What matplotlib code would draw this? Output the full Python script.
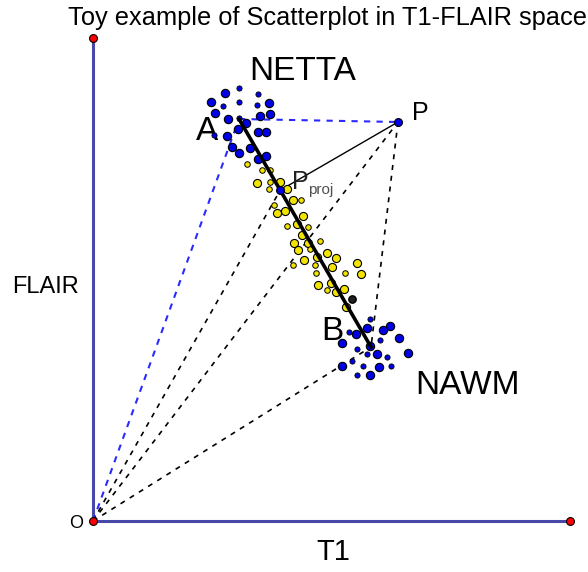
import numpy as np
import matplotlib
matplotlib.use("Agg")
import matplotlib.pyplot as plt

plt.rcParams['font.family'] = ['Liberation Sans', 'DejaVu Sans']

# axis extents (T1, FLAIR units)
t1_max = 477
flair_max = 483

# NETTA cluster (blue)
netta_t1 = [132, 118, 176, 122, 135, 167, 177, 153, 145, 165, 173, 134, 139, 146, 157, 165, 173]
netta_fl = [428, 419, 418, 408, 402, 405, 407, 398, 392, 389, 389, 385, 374, 368, 373, 362, 365]
netta_small_t1 = [146, 165, 130, 146, 164, 146, 121]
netta_small_fl = [433, 427, 415, 419, 416, 403, 386]

# NAWM cluster (blue)
nawm_t1 = [297, 290, 274, 263, 306, 277, 249, 284, 315, 249, 286, 277]
nawm_fl = [195, 191, 193, 187, 183, 175, 178, 167, 168, 155, 154, 146]
nawm_small_t1 = [277, 256, 287, 264, 274, 294, 270, 298, 264, 259]
nawm_small_fl = [202, 189, 181, 172, 167, 164, 155, 155, 146, 160]

# transition voxels (yellow)
yel_t1 = [164, 187, 194, 200, 184, 192, 210, 204, 209, 201, 215, 205, 234, 243,
          211, 224, 239, 264, 268, 225, 238, 243, 251, 253]
yel_fl = [338, 339, 332, 321, 308, 310, 305, 297, 286, 278, 278, 271, 268, 263,
          261, 264, 254, 258, 247, 236, 238, 229, 232, 214]
yel_small_t1 = [154, 169, 177, 177, 176, 208, 181, 194, 215, 227, 217, 222, 223, 252, 234, 200]
yel_small_fl = [357, 351, 351, 339, 332, 321, 316, 295, 294, 280, 272, 256, 248, 248, 231, 256]

dark_t1 = [259]
dark_fl = [222]

# key points
A = np.array([146, 402])
B = np.array([278, 174])
P = np.array([305, 399])
O = np.array([0, 0])

# projection of P onto line AB
ab = B - A
Pproj = A + ab * np.dot(P - A, ab) / np.dot(ab, ab)

fig = plt.figure(figsize=(5.88, 5.72), dpi=100)
ax = fig.add_axes([0, 0, 1, 1])
ax.set_xlim(-93, 495)
ax.set_ylim(-51, 521)
ax.axis('off')

axis_col = '#4848a8'
ax.plot([0, 0], [0, flair_max], color=axis_col, lw=2.2, zorder=2)
ax.plot([0, t1_max], [0, 0], color=axis_col, lw=2.2, zorder=2)

# dashed construction lines
blue_dash = dict(color='#2a2aff', lw=1.5, ls=(0, (3, 3)), zorder=3)
black_dash = dict(color='black', lw=1.2, ls=(0, (3, 3.5)), zorder=3)
ax.plot([O[0], A[0]], [O[1], A[1]], **blue_dash)
ax.plot([A[0], P[0]], [A[1], P[1]], **blue_dash)
ax.plot([O[0], Pproj[0]], [O[1], Pproj[1]], **black_dash)
ax.plot([O[0], P[0]], [O[1], P[1]], **black_dash)
ax.plot([O[0], B[0]], [O[1], B[1]], **black_dash)
ax.plot([P[0], B[0]], [P[1], B[1]], **black_dash)
ax.plot([P[0], Pproj[0]], [P[1], Pproj[1]], color='black', lw=1.0, zorder=3)

# points
ax.scatter(yel_t1, yel_fl, s=34, c='#f2e400', edgecolors='black', linewidths=0.8, zorder=4)
ax.scatter(yel_small_t1, yel_small_fl, s=16, c='#f2e400', edgecolors='black', linewidths=0.7, zorder=4)
ax.scatter(netta_t1, netta_fl, s=36, c='#0000e6', edgecolors='black', linewidths=0.8, zorder=4)
ax.scatter(netta_small_t1, netta_small_fl, s=14, c='#0000e6', edgecolors='black', linewidths=0.6, zorder=4)
ax.scatter(nawm_t1, nawm_fl, s=36, c='#0000e6', edgecolors='black', linewidths=0.8, zorder=4)
ax.scatter(nawm_small_t1, nawm_small_fl, s=14, c='#0000e6', edgecolors='black', linewidths=0.6, zorder=4)
ax.scatter(dark_t1, dark_fl, s=28, c='#202020', edgecolors='black', zorder=4)

# main A-B line
ax.plot([A[0], B[0]], [A[1], B[1]], color='black', lw=2.6, zorder=5)

ax.scatter([P[0], Pproj[0]], [P[1], Pproj[1]], s=32, c='#0000e6', edgecolors='black', linewidths=0.8, zorder=6)
ax.scatter([0, 0, t1_max], [0, flair_max, 0], s=32, c='red', edgecolors='black', linewidths=0.8, zorder=6)

# labels
ax.text(125, 390, 'A', fontsize=24, ha='right', va='center')
ax.text(250, 190, 'B', fontsize=24, ha='right', va='center')
ax.text(319, 408, 'P', fontsize=18, ha='left', va='center')
ax.text(199, 339, 'P', fontsize=18, ha='left', va='center', color='#202020')
ax.text(215, 331, 'proj', fontsize=11, ha='left', va='center', color='#505050')
ax.text(210, 449, 'NETTA', fontsize=24, ha='center', va='center')
ax.text(374, 135, 'NAWM', fontsize=24, ha='center', va='center')
ax.text(-47, 234, 'FLAIR', fontsize=17, ha='center', va='center')
ax.text(240, -31, 'T1', fontsize=21, ha='center', va='center')
ax.text(-17, -3, 'O', fontsize=13, ha='center', va='center')
ax.text(-25, 503, 'Toy example of Scatterplot in T1-FLAIR space', fontsize=18.3, ha='left', va='center')

fig.savefig('out.png', dpi=100)
